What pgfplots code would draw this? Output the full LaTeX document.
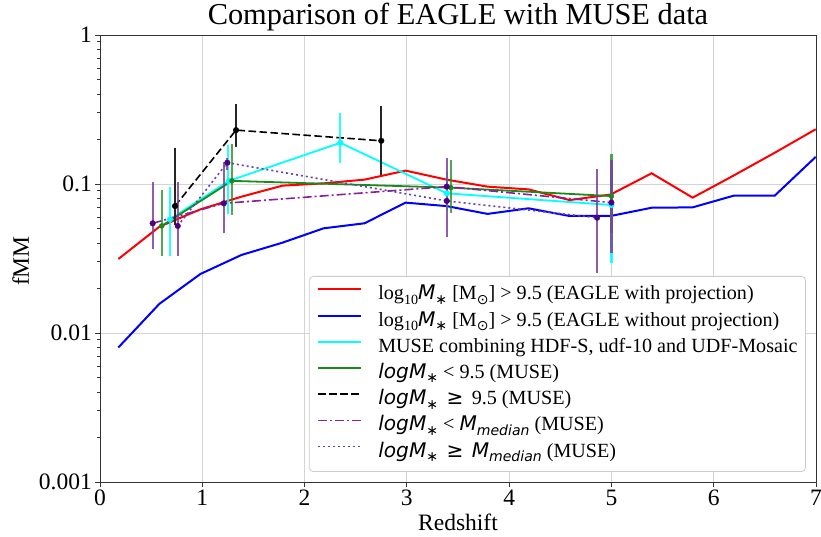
\documentclass[border=0pt]{standalone}
\usepackage{fontspec}
\setmainfont{Liberation Serif}
\newfontfamily\dvs{DejaVu Sans}
\usepackage{pgfplots}
\pgfplotsset{compat=1.18}
\definecolor{mcyan}{rgb}{0,1,1}
\definecolor{mgreen}{HTML}{1A8A1A}
\definecolor{pdash}{HTML}{8A1F9E}
\definecolor{pdot}{HTML}{6A3FB0}
\definecolor{pmark}{HTML}{4B0082}
\definecolor{pbar}{HTML}{7B3FA0}
\newcommand{\mi}[1]{{\dvs\itshape #1}}
\newcommand{\sub}[1]{\raisebox{-0.22em}{\fontsize{14.1}{16}\selectfont #1}}
\pgfplotstableread{
z red blue
0.18 0.0314 0.0080
0.581 0.0517 0.0157
0.982 0.0676 0.0249
1.383 0.0822 0.0334
1.784 0.0975 0.0404
2.185 0.101 0.0504
2.586 0.107 0.0545
2.987 0.123 0.0750
3.388 0.107 0.0711
3.789 0.096 0.0630
4.190 0.092 0.0687
4.591 0.078 0.0610
4.992 0.085 0.0610
5.393 0.118 0.0693
5.794 0.081 0.0697
6.195 0.114 0.0835
6.596 0.162 0.0835
6.997 0.233 0.152
}\eagle
\begin{document}
\begin{tikzpicture}
\useasboundingbox (-100bp,-55bp) rectangle (721bp,482bp);
\begin{axis}[
 scale only axis, width=716bp, height=447bp,
 xmin=0, xmax=7, ymin=0.001, ymax=1, ymode=log,
 xtick={0,1,2,3,4,5,6,7},
 ytick={0.001,0.01,0.1,1}, yticklabels={0.001,0.01,0.1,1},
 minor ytick={0.002,0.003,0.004,0.005,0.006,0.007,0.008,0.009,0.02,0.03,0.04,0.05,0.06,0.07,0.08,0.09,0.2,0.3,0.4,0.5,0.6,0.7,0.8,0.9},
 tick align=outside, tick pos=left,
 major tick length=5bp, minor tick length=3bp,
 grid=major, major grid style={color=black!17, line width=0.9bp},
 axis line style={black!80, line width=0.9bp},
 every tick/.style={black!80, line width=0.9bp},
 /pgf/number format/assume math mode=true,
 ticklabel style={font=\fontsize{23.6}{26}\selectfont, inner sep=3bp},
 title={Comparison of EAGLE with MUSE data},
 title style={font=\fontsize{30.5}{34}\selectfont, at={(axis description cs:0.5,1.0096)}, anchor=base, inner sep=0pt},
 xlabel={Redshift},
 xlabel style={font=\fontsize{23.6}{26}\selectfont, at={(axis description cs:0.5,-0.1096)}, anchor=base, inner sep=0pt},
 ylabel={fMM},
 ylabel style={font=\fontsize{23.6}{26}\selectfont, at={(axis description cs:-0.0992,0.4944)}, anchor=base, inner sep=0pt},
 unbounded coords=jump,
 legend cell align=left,
 legend image code/.code={\path (0bp,0bp); \draw[#1] (0bp,6bp) -- (43bp,6bp);},
 legend style={at={(axis description cs:0.986,0.0224)}, anchor=south east,
   draw=black!20, line width=0.8bp, rounded corners=4bp, fill=white,
   font=\fontsize{20.2}{23}\selectfont, inner xsep=8bp, inner ysep=9bp, row sep=6.2bp,
   nodes={inner sep=0pt, text height=14.5bp, text depth=5.5bp},
   /tikz/every odd column/.append style={column sep=16bp}},
]
\addlegendimage{draw=red, line width=2bp}
\addlegendentry{log\sub{10}\mi{M}\sub{\dvs ∗} [M\sub{\dvs ⊙}] > 9.5 (EAGLE with projection)}
\addlegendimage{draw=blue, line width=2bp}
\addlegendentry{log\sub{10}\mi{M}\sub{\dvs ∗} [M\sub{\dvs ⊙}] > 9.5 (EAGLE without projection)}
\addlegendimage{draw=mcyan, line width=1.8bp}
\addlegendentry{MUSE combining HDF-S, udf-10 and UDF-Mosaic}
\addlegendimage{draw=mgreen, line width=1.8bp}
\addlegendentry{\mi{logM}\sub{\dvs ∗} < 9.5 (MUSE)}
\addlegendimage{draw=black, line width=1.6bp, dash pattern=on 7.5bp off 3.5bp}
\addlegendentry{\mi{logM}\sub{\dvs ∗} \,{\dvs ≥}\, 9.5 (MUSE)}
\addlegendimage{draw=pdash, line width=1.6bp, dash pattern=on 9bp off 3bp on 2bp off 3bp}
\addlegendentry{\mi{logM}\sub{\dvs ∗} < \mi{M}\sub{\mi{median}} (MUSE)}
\addlegendimage{draw=pdot, line width=1.6bp, dash pattern=on 2bp off 3bp}
\addlegendentry{\mi{logM}\sub{\dvs ∗} \,{\dvs ≥}\, \mi{M}\sub{\mi{median}} (MUSE)}
\addplot[draw=red, line width=2bp, forget plot] table[x=z, y=red] {\eagle};
\addplot[draw=blue, line width=2bp, forget plot] table[x=z, y=blue] {\eagle};
\addplot[draw=mcyan, line width=1.8bp, forget plot] coordinates {(0.684,0.058) (1.26,0.105) (2.35,0.189) (3.39,0.0866) (5.0,0.0723)};
\addplot[draw=mgreen, line width=1.8bp, forget plot] coordinates {(0.603,0.0523) (1.29,0.105) (3.43,0.0945) (5.0,0.083)};
\addplot[draw=black, line width=1.6bp, dash pattern=on 7.5bp off 3.5bp, forget plot] coordinates {(0.733,0.0711) (1.33,0.230) (2.75,0.195)};
\addplot[draw=pdash, line width=1.6bp, dash pattern=on 9bp off 3bp on 2bp off 3bp, forget plot] coordinates {(0.515,0.0545) (1.21,0.0742) (3.39,0.096) (5.0,0.075)};
\addplot[draw=pdot, line width=1.6bp, dash pattern=on 2bp off 3bp, forget plot] coordinates {(0.76,0.0523) (1.245,0.139) (3.39,0.077) (4.86,0.0594)};
% error bars
\addplot[mcyan, opacity=0.85, line width=2.2bp, forget plot] table {
x y
0.684 0.033
0.684 0.096
0.684 nan
1.25 0.0626
1.25 0.183
1.25 nan
2.35 0.139
2.35 0.298
2.35 nan
3.39 0.066
3.39 0.12
3.39 nan
5.0 0.0294
5.0 0.13
};
\addplot[mgreen, opacity=0.75, line width=2.2bp, forget plot] table {
x y
0.603 0.033
0.603 0.0912
0.603 nan
1.29 0.062
1.29 0.185
1.29 nan
3.43 0.0641
3.43 0.146
3.43 nan
5.0 0.0467
5.0 0.159
};
\addplot[black!85, line width=2.2bp, forget plot] table {
x y
0.733 0.053
0.733 0.175
0.733 nan
1.33 0.178
1.33 0.343
1.33 nan
2.75 0.115
2.75 0.336
};
\addplot[pbar, opacity=0.85, line width=2.2bp, forget plot] table {
x y
0.515 0.0365
0.515 0.103
0.515 nan
1.21 0.0467
1.21 0.141
1.21 nan
3.39 0.0443
3.39 0.150
3.39 nan
5.0 0.0343
5.0 0.145
5.0 nan
0.76 0.033
0.76 0.103
0.76 nan
1.245 0.125
1.245 0.149
1.245 nan
4.86 0.0252
4.86 0.127
};
% markers
\addplot[only marks, mark=*, mark size=2.8bp, mcyan, forget plot] coordinates {(0.684,0.058) (1.26,0.105) (2.35,0.189) (3.39,0.0866) (5.0,0.0723)};
\addplot[only marks, mark=*, mark size=2.5bp, mgreen, forget plot] coordinates {(0.603,0.0523) (1.29,0.105) (3.43,0.0945) (5.0,0.083)};
\addplot[only marks, mark=*, mark size=2.8bp, black, forget plot] coordinates {(0.733,0.0711) (1.33,0.230) (2.75,0.195)};
\addplot[only marks, mark=*, mark size=2.8bp, pmark, forget plot] coordinates {(0.515,0.0545) (1.21,0.0742) (3.39,0.096) (5.0,0.075) (0.76,0.0523) (1.245,0.139) (3.39,0.077) (4.86,0.0594)};
\end{axis}
\end{tikzpicture}
\end{document}
